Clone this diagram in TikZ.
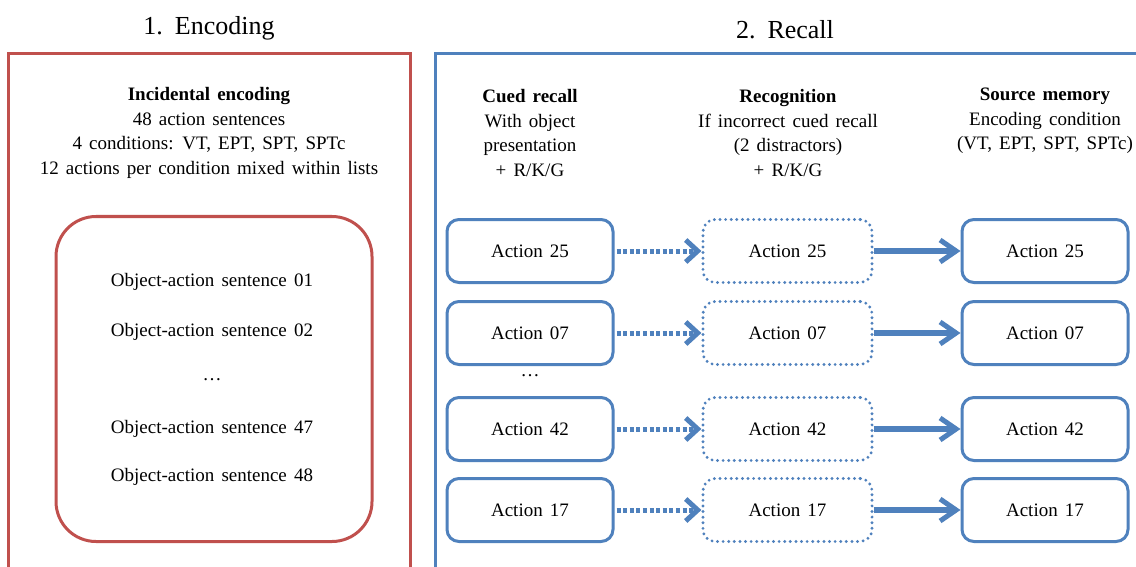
\documentclass[tikz,border=0pt]{standalone}
\usepackage{fontspec}
\setmainfont[WordSpace=1.5]{Liberation Serif}
\usetikzlibrary{arrows.meta}
\definecolor{ored}{RGB}{192,80,77}
\definecolor{oblue}{RGB}{79,129,189}
\tikzset{
  ttl/.style={font=\fontsize{26}{30}\selectfont, inner sep=0pt},
  body/.style={font=\fontsize{19}{24.5}\selectfont, align=center, inner sep=0pt},
  frame/.style={line width=3pt},
  actbox/.style={draw=oblue, line width=3pt, rounded corners=12pt, minimum width=166pt, minimum height=63pt, font=\fontsize{19}{24}\selectfont, inner sep=0pt},
  dotbox/.style={draw=oblue, line width=3.2pt, dash pattern=on 0pt off 5.6pt, line cap=round, rounded corners=12pt, minimum width=169pt, minimum height=63pt, font=\fontsize{19}{24}\selectfont, inner sep=0pt},
  dasharr/.style={draw=oblue, line width=5pt, dash pattern=on 4pt off 2.6pt, -{Straight Barb[length=12pt,width=22pt,line width=5pt]}, shorten <=2pt},
  solarr/.style={draw=oblue, line width=5.5pt, -{Straight Barb[length=16pt,width=22pt,line width=5pt]}},
}
\begin{document}
\begin{tikzpicture}[x=1pt,y=-1pt]
\useasboundingbox (0,0) rectangle (1136,567);
\clip (0,0) rectangle (1136,567);
\fill[white] (0,0) rectangle (1136,567);
% titles
\node[ttl] (t1) at (209,28) {1. Encoding};
\node[ttl] (t2) at (785,30) {2. Recall};
% frames
\draw[frame, draw=ored] (8,54) rectangle (410,600);
\draw[frame, draw=oblue] (435,54) rectangle (1160,600);
% encoding header
\node[body] (enc) at (209,133) {\textbf{Incidental encoding}\\48 action sentences\\4 conditions: VT, EPT, SPT, SPTc\\12 actions per condition mixed within lists};
% inner list
\node[draw=ored, line width=3pt, rounded corners=40pt, minimum width=316pt, minimum height=325pt] (list) at (214,379) {};
\node[body] (s01) at (212,282) {Object-action sentence 01};
\node[body] (s02) at (212,332) {Object-action sentence 02};
\node[body] (sdots) at (212,380) {\ldots};
\node[body] (s47) at (212,429) {Object-action sentence 47};
\node[body] (s48) at (212,477) {Object-action sentence 48};
% recall headers
\node[body] (h1) at (530,133) {\textbf{Cued recall}\\With object\\presentation\\+ R/K/G};
\node[body] (h2) at (788,133) {\textbf{Recognition}\\If incorrect cued recall\\(2 distractors)\\+ R/K/G};
\node[body] (h3) at (1045,121) {\textbf{Source memory}\\Encoding condition\\(VT, EPT, SPT, SPTc)};
% boxes
\foreach \n/\y in {25/251, 07/333, 42/429, 17/510}{
  \node[actbox] (a\n) at (530,\y) {Action \n};
  \node[dotbox] (b\n) at (787.5,\y) {Action \n};
  \node[actbox] (c\n) at (1045,\y) {Action \n};
  \draw[dasharr] (a\n.east) -- (b\n.west);
  \draw[solarr] (b\n.east) -- (c\n.west);
}
\node[body] (adots) at (530,376) {\ldots};
\end{tikzpicture}
\end{document}
